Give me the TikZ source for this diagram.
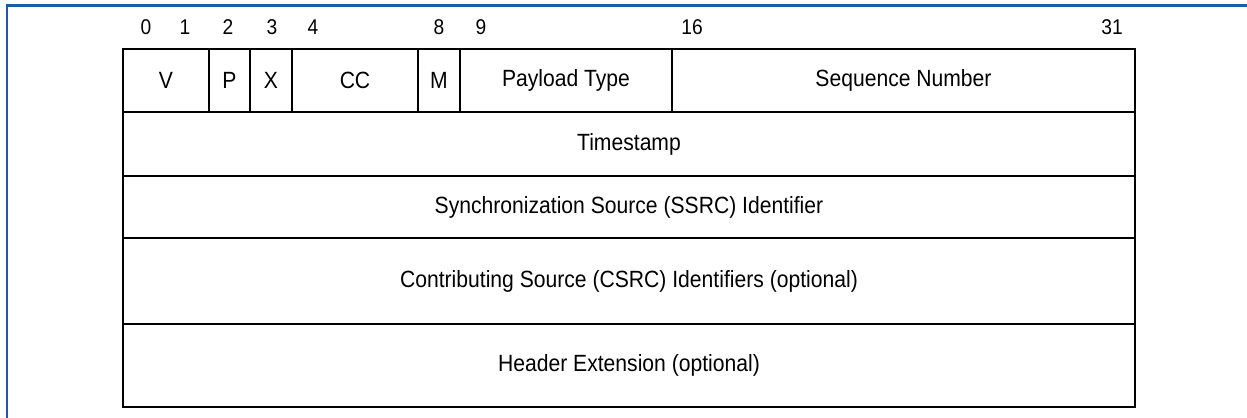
\documentclass[tikz,border=0pt]{standalone}
\usepackage{fontspec}
\setmainfont{Liberation Sans}
\newfontfamily\condfont{Liberation Sans}[FakeStretch=0.9]
\definecolor{frameblue}{RGB}{30,90,168}
\tikzset{
  field/.style={draw, line width=1.15pt, inner sep=0pt, font=\condfont\fontsize{17.6}{20}\selectfont},
  bitnum/.style={inner sep=0.75pt, font=\condfont\fontsize{16}{18}\selectfont}
}

\begin{document}
\begin{tikzpicture}[x=0.75pt,y=0.75pt,yscale=-1,xscale=1]
\useasboundingbox (0,0) rectangle (1247,418);

%Frame lines
\draw [frameblue, line width=1.6pt] (7,418) -- (7,5.5) -- (1247,5.5) ;

%Bit numbers
\node [bitnum] (b0) at (146,27) {0};
\node [bitnum] (b1) at (185,27) {1};
\node [bitnum] (b2) at (228,27) {2};
\node [bitnum] (b3) at (272,27) {3};
\node [bitnum] (b4) at (313,27) {4};
\node [bitnum] (b8) at (439,27) {8};
\node [bitnum] (b9) at (481,27) {9};
\node [bitnum] (b16) at (692,27) {16};
\node [bitnum] (b31) at (1112,27) {31};

%First word
\node [field, minimum width=64.5pt, minimum height=47.25pt] (ver) at (166,80.5) {V};
\node [field, minimum width=30.75pt, minimum height=47.25pt] (pad) at (229.5,80.5) {P};
\node [field, minimum width=31.5pt, minimum height=47.25pt] (ext) at (271,80.5) {X};
\node [field, minimum width=94.5pt, minimum height=47.25pt] (cc) at (355,80.5) {CC};
\node [field, minimum width=31.5pt, minimum height=47.25pt] (mark) at (439,80.5) {M};
\node [field, minimum width=159pt, minimum height=47.25pt] (ptype) at (566,80.5) {Payload Type};
\node [field, minimum width=347.25pt, minimum height=47.25pt] (seqnum) at (903.5,80.5) {Sequence Number};

%Full words
\node [field, minimum width=759pt, minimum height=48pt] (tstamp) at (629,144) {Timestamp};
\node [field, minimum width=759pt, minimum height=46.5pt] (ssrc) at (629,207) {Synchronization Source (SSRC) Identifier};
\node [field, minimum width=759pt, minimum height=64.5pt] (csrc) at (629,281) {Contributing Source (CSRC) Identifiers (optional)};
\node [field, minimum width=759pt, minimum height=62.25pt] (hdrext) at (629,365.5) {Header Extension (optional)};

\end{tikzpicture}
\end{document}
